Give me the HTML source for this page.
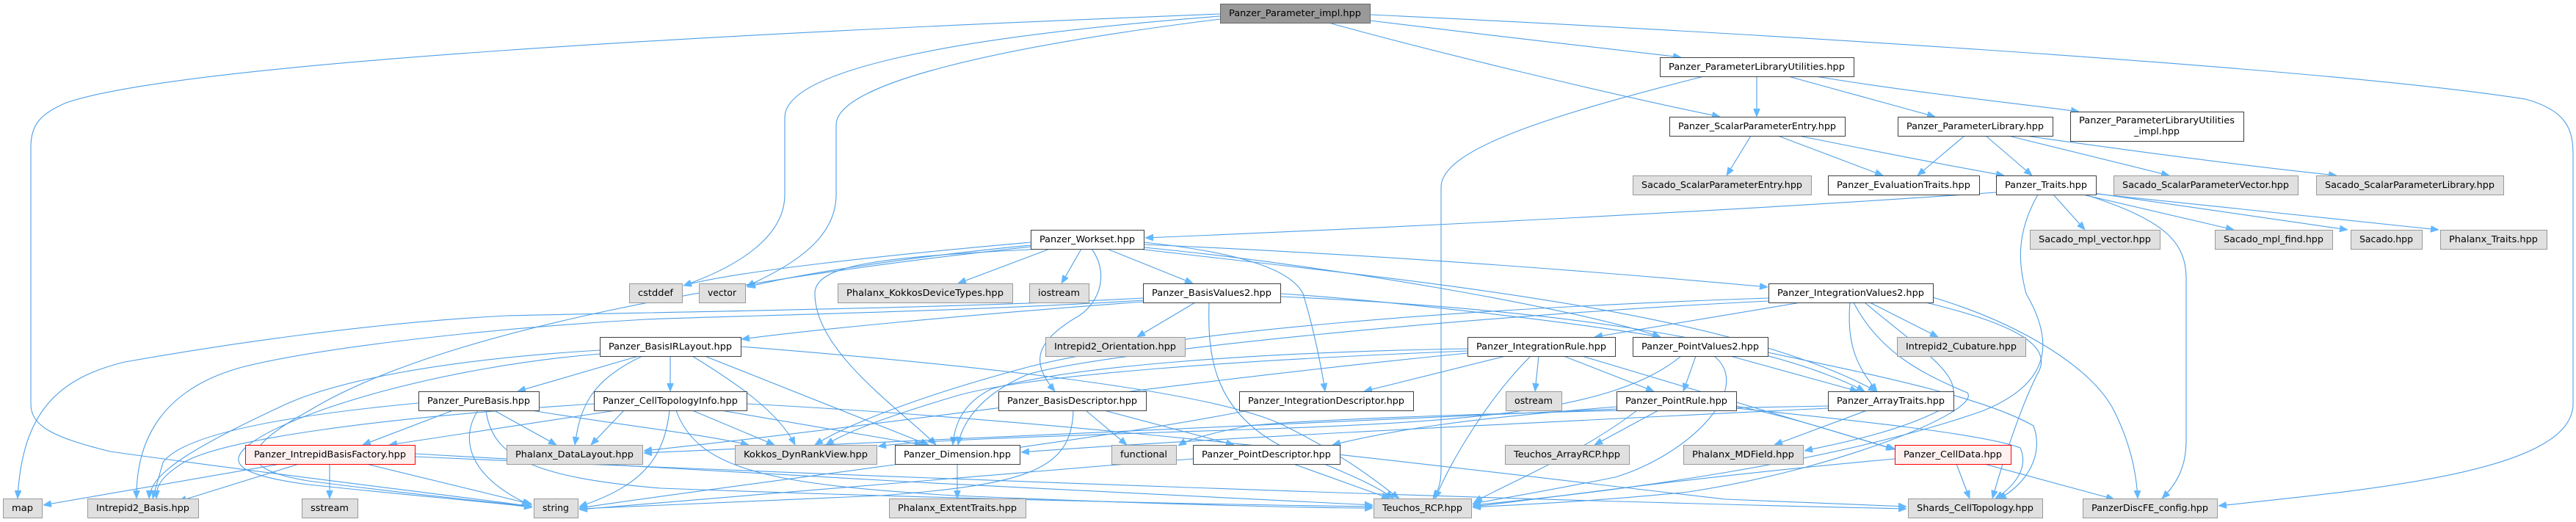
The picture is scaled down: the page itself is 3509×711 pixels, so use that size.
<!DOCTYPE html>
<html>
<head>
<meta charset="utf-8">
<style>
html,body{margin:0;padding:0;background:#ffffff;}
svg{display:block;}
.e{fill:none;stroke:#4f9fe6;stroke-width:1.1;marker-end:url(#a);}
.doc{fill:#ffffff;stroke:#404040;stroke-width:1;}
.ext{fill:#e0e0e0;stroke:#999999;stroke-width:1;}
.root{fill:#999999;stroke:#666666;stroke-width:1;}
.red{fill:#fff0f0;stroke:#ff0000;stroke-width:1;}
text{font-family:"DejaVu Sans","Liberation Sans",sans-serif;font-size:12px;fill:#000;text-anchor:middle;}
</style>
</head>
<body>
<svg width="3509" height="711" viewBox="0 0 3509 711" xmlns="http://www.w3.org/2000/svg">
<defs>
<marker id="a" viewBox="0 0 11 9" refX="11" refY="4.5" markerWidth="11" markerHeight="9" markerUnits="userSpaceOnUse" orient="auto">
<path d="M0,0L11,4.5L0,9z" fill="#63b8ff" stroke="#63b8ff" stroke-width="0.8"/>
</marker>
</defs>
<rect x="0" y="0" width="3509" height="711" fill="#ffffff"/>

<!-- edges -->
<g>
<path class="e" d="M1866,28 C2000,45 2180,65 2290,78"/>
<path class="e" d="M1810,31 C1950,70 2200,130 2343,159"/>
<path class="e" d="M1866,20 C2300,40 3150,90 3440,135 C3495,150 3505,175 3505,210 L3505,550 C3505,640 3250,665 3022,689"/>
<path class="e" d="M1662,19 C1000,45 250,85 90,140 C55,155 42,170 42,200 L42,550 C42,580 70,595 150,615 C400,650 620,675 725,690"/>
<path class="e" d="M1662,22 C1300,50 1069,95 1069,160 L1069,265 C1069,325 1000,365 931,389"/>
<path class="e" d="M1662,26 C1350,65 1139,115 1139,170 L1139,265 C1139,330 1070,365 1017,390"/>
<path class="e" d="M2393,104 L2393,159"/>
<path class="e" d="M2436,104 L2636,159"/>
<path class="e" d="M2473,104 C2600,125 2740,140 2832,152"/>
<path class="e" d="M2321,104 C2100,160 1963,205 1963,255 L1963,640 C1963,660 1958,670 1952,679"/>
<path class="e" d="M2385,185 L2352,239"/>
<path class="e" d="M2422,185 L2565,239"/>
<path class="e" d="M2450,185 C2550,205 2650,225 2730,239"/>
<path class="e" d="M2676,185 L2612,239"/>
<path class="e" d="M2705,185 L2768,239"/>
<path class="e" d="M2736,185 L2955,239"/>
<path class="e" d="M2759,185 C2900,205 3050,225 3183,239"/>
<path class="e" d="M2719,262 C2400,285 1900,310 1560,324"/>
<path class="e" d="M2797,265 L2840,313"/>
<path class="e" d="M2837,265 L3043,313"/>
<path class="e" d="M2852,263 L3198,313"/>
<path class="e" d="M2855,264 C3050,285 3200,300 3322,313"/>
<path class="e" d="M2840,265 C2950,300 2978,330 2978,380 L2978,600 C2978,640 2962,662 2945,679"/>
<path class="e" d="M2776,265 C2745,320 2750,360 2760,400 C2795,460 2800,520 2700,560 C2500,630 2200,670 2006,688"/>
<path class="e" d="M1404,330 C1200,348 1000,370 931,389"/>
<path class="e" d="M1404,334 C1220,352 1080,375 1018,391"/>
<path class="e" d="M1430,339 L1305,386"/>
<path class="e" d="M1473,339 L1446,386"/>
<path class="e" d="M1508,339 L1625,386"/>
<path class="e" d="M1558,333 C1900,348 2200,372 2408,391"/>
<path class="e" d="M1558,337 C1800,360 2150,420 2262,459"/>
<path class="e" d="M1550,339 C1900,380 2350,420 2556,533"/>
<path class="e" d="M1420,339 C1200,350 1110,360 1110,400 C1110,480 1230,560 1275,606"/>
<path class="e" d="M1487,339 C1510,370 1500,410 1470,430 C1400,470 1410,500 1437,533"/>
<path class="e" d="M1558,330 C1700,345 1760,370 1775,400 C1790,450 1800,500 1805,533"/>
<path class="e" d="M1404,336 C1000,380 600,450 420,560 C320,615 330,640 420,655 C550,672 650,682 725,690"/>
<path class="e" d="M1557,406 C1300,420 900,425 690,430 C500,440 300,470 170,493 C80,515 30,560 24,679"/>
<path class="e" d="M1557,409 C1300,425 1000,430 880,435 C700,445 450,470 330,500 C220,530 185,600 186,679"/>
<path class="e" d="M1557,411 C1300,430 1100,450 1010,462"/>
<path class="e" d="M1628,412 L1549,459"/>
<path class="e" d="M1647,412 C1645,480 1650,560 1750,610 C1850,650 1880,665 1898,679"/>
<path class="e" d="M1744,400 C1900,410 2150,440 2262,459"/>
<path class="e" d="M1744,404 C2100,420 2400,460 2540,533"/>
<path class="e" d="M870,485 L705,533"/>
<path class="e" d="M913,485 L913,533"/>
<path class="e" d="M875,485 C800,520 790,560 783,606"/>
<path class="e" d="M943,485 C1000,520 1060,560 1083,606"/>
<path class="e" d="M960,485 L1265,606"/>
<path class="e" d="M817,477 C600,490 450,520 380,555 C240,620 205,650 203,679"/>
<path class="e" d="M817,482 C600,500 400,560 340,605 C305,632 330,648 420,660 C560,675 660,683 725,691"/>
<path class="e" d="M1009,472 C1300,495 1650,530 1750,580 C1840,625 1880,660 1906,679"/>
<path class="e" d="M850,559 L805,606"/>
<path class="e" d="M839,559 L530,606"/>
<path class="e" d="M809,550 C500,570 300,600 250,630 C218,650 213,662 213,679"/>
<path class="e" d="M943,559 L1055,606"/>
<path class="e" d="M982,559 L1257,606"/>
<path class="e" d="M912,559 C905,620 880,660 789,690"/>
<path class="e" d="M921,559 C950,640 1050,660 1300,675 C1600,688 1800,692 1870,692"/>
<path class="e" d="M1017,550 C1500,575 2000,640 2350,680 L2597,690"/>
<path class="e" d="M617,559 L494,606"/>
<path class="e" d="M673,559 L758,606"/>
<path class="e" d="M651,559 C625,600 640,650 722,688"/>
<path class="e" d="M570,549 C400,565 250,590 222,630 L208,679"/>
<path class="e" d="M662,559 C670,620 720,650 900,665 C1300,680 1700,688 1870,690"/>
<path class="e" d="M724,559 C850,580 950,590 1020,606"/>
<path class="e" d="M382,632 L59,688"/>
<path class="e" d="M407,632 L243,683"/>
<path class="e" d="M449,632 L449,679"/>
<path class="e" d="M499,632 L725,687"/>
<path class="e" d="M565,618 C900,640 1500,670 1870,688"/>
<path class="e" d="M565,622 C1200,650 2000,680 2597,693"/>
<path class="e" d="M1479,559 L1535,606"/>
<path class="e" d="M1504,559 L1681,606"/>
<path class="e" d="M1462,559 C1460,640 1400,660 1200,675 C1000,685 850,690 789,693"/>
<path class="e" d="M1700,559 C1500,600 1000,660 789,692"/>
<path class="e" d="M1762,632 L1893,679"/>
<path class="e" d="M1625,625 C1300,650 950,680 789,694"/>
<path class="e" d="M1304,632 L1304,679"/>
<path class="e" d="M2051,485 L1858,533"/>
<path class="e" d="M2096,485 L2091,533"/>
<path class="e" d="M2130,485 L2253,533"/>
<path class="e" d="M2085,485 C2030,540 1980,620 1955,679"/>
<path class="e" d="M2155,485 L2580,612"/>
<path class="e" d="M1999,478 C1700,490 1400,510 1300,540 C1200,570 1150,590 1125,606"/>
<path class="e" d="M1999,475 C1700,480 1450,500 1350,530 C1310,550 1300,580 1298,606"/>
<path class="e" d="M1999,481 C1600,520 1200,580 877,614"/>
<path class="e" d="M2310,485 L2293,533"/>
<path class="e" d="M2357,485 L2531,533"/>
<path class="e" d="M2335,485 C2390,530 2300,620 2200,650 C2100,670 2040,680 2006,686"/>
<path class="e" d="M2290,485 C2200,560 2000,575 1700,585 C1400,595 1250,600 1196,608"/>
<path class="e" d="M2408,480 C2550,510 2700,540 2770,580 C2785,620 2760,660 2722,680"/>
<path class="e" d="M2365,556 C2500,570 2700,590 2752,610 C2765,640 2740,665 2718,679"/>
<path class="e" d="M2259,559 L2172,606"/>
<path class="e" d="M2202,554 C2000,570 1900,585 1815,606"/>
<path class="e" d="M2202,557 C1700,580 1200,600 877,617"/>
<path class="e" d="M2365,553 C2450,570 2520,595 2582,612"/>
<path class="e" d="M2230,559 C2150,620 2050,660 2008,684"/>
<path class="e" d="M2543,559 L2417,606"/>
<path class="e" d="M2490,553 C2100,560 1800,570 1700,580 C1650,590 1620,598 1605,607"/>
<path class="e" d="M2490,556 C2000,580 1600,600 1391,616"/>
<path class="e" d="M2453,412 L2172,459"/>
<path class="e" d="M2520,412 C2515,470 2530,500 2557,533"/>
<path class="e" d="M2547,412 L2640,459"/>
<path class="e" d="M2525,412 C2560,480 2620,510 2680,535 C2700,560 2500,640 2300,670 C2150,685 2050,688 2006,691"/>
<path class="e" d="M2623,412 C2740,440 2800,470 2775,510 C2750,560 2725,640 2714,679"/>
<path class="e" d="M2633,405 C2750,440 2850,500 2880,560 C2900,600 2910,640 2912,679"/>
<path class="e" d="M2540,412 C2620,480 2700,525 2640,560 C2580,590 2500,605 2458,614"/>
<path class="e" d="M2409,406 C2000,420 1600,450 1400,500 C1250,540 1150,580 1110,606"/>
<path class="e" d="M2409,410 C2000,430 1500,480 1400,510 C1330,540 1310,580 1305,606"/>
<path class="e" d="M2581,625 C2300,650 2100,680 2006,690"/>
<path class="e" d="M2665,632 L2683,679"/>
<path class="e" d="M2703,632 L2880,680"/>
</g>

<!-- nodes -->
<g>
<rect class="root" x="1662.5" y="5.5" width="204" height="26"/><text x="1764" y="22" textLength="180" lengthAdjust="spacingAndGlyphs">Panzer_Parameter_impl.hpp</text>

<rect class="doc" x="2261.5" y="78.5" width="264" height="26"/><text x="2393" y="95" textLength="240" lengthAdjust="spacingAndGlyphs">Panzer_ParameterLibraryUtilities.hpp</text>

<rect class="doc" x="2274.5" y="159.5" width="239" height="26"/><text x="2393.5" y="176" textLength="215" lengthAdjust="spacingAndGlyphs">Panzer_ScalarParameterEntry.hpp</text>
<rect class="doc" x="2585.5" y="159.5" width="211" height="26"/><text x="2690.5" y="176" textLength="187" lengthAdjust="spacingAndGlyphs">Panzer_ParameterLibrary.hpp</text>
<rect class="doc" x="2820.5" y="152.5" width="236" height="40"/><text x="2938" y="168" textLength="212" lengthAdjust="spacingAndGlyphs">Panzer_ParameterLibraryUtilities</text><text x="2938" y="183" textLength="62" lengthAdjust="spacingAndGlyphs">_impl.hpp</text>

<rect class="ext" x="2224.5" y="239.5" width="243" height="26"/><text x="2345.5" y="256" textLength="219" lengthAdjust="spacingAndGlyphs">Sacado_ScalarParameterEntry.hpp</text>
<rect class="doc" x="2490.5" y="239.5" width="206" height="26"/><text x="2593" y="256" textLength="182" lengthAdjust="spacingAndGlyphs">Panzer_EvaluationTraits.hpp</text>
<rect class="doc" x="2719.5" y="239.5" width="136" height="26"/><text x="2787" y="256" textLength="112" lengthAdjust="spacingAndGlyphs">Panzer_Traits.hpp</text>
<rect class="ext" x="2879.5" y="239.5" width="251" height="26"/><text x="3004.5" y="256" textLength="227" lengthAdjust="spacingAndGlyphs">Sacado_ScalarParameterVector.hpp</text>
<rect class="ext" x="3155.5" y="239.5" width="255" height="26"/><text x="3282.5" y="256" textLength="231" lengthAdjust="spacingAndGlyphs">Sacado_ScalarParameterLibrary.hpp</text>

<rect class="doc" x="1404.5" y="313.5" width="154" height="26"/><text x="1481" y="330" textLength="130" lengthAdjust="spacingAndGlyphs">Panzer_Workset.hpp</text>
<rect class="ext" x="2765.5" y="313.5" width="177" height="26"/><text x="2853.5" y="330" textLength="153" lengthAdjust="spacingAndGlyphs">Sacado_mpl_vector.hpp</text>
<rect class="ext" x="3017.5" y="313.5" width="160" height="26"/><text x="3097" y="330" textLength="136" lengthAdjust="spacingAndGlyphs">Sacado_mpl_find.hpp</text>
<rect class="ext" x="3202.5" y="313.5" width="97" height="26"/><text x="3250.5" y="330" textLength="73" lengthAdjust="spacingAndGlyphs">Sacado.hpp</text>
<rect class="ext" x="3324.5" y="313.5" width="145" height="26"/><text x="3396.5" y="330" textLength="121" lengthAdjust="spacingAndGlyphs">Phalanx_Traits.hpp</text>

<rect class="ext" x="857.5" y="386.5" width="72" height="26"/><text x="893" y="403" textLength="48" lengthAdjust="spacingAndGlyphs">cstddef</text>
<rect class="ext" x="952.5" y="386.5" width="63" height="26"/><text x="983.5" y="403" textLength="39" lengthAdjust="spacingAndGlyphs">vector</text>
<rect class="ext" x="1141.5" y="386.5" width="238" height="26"/><text x="1260" y="403" textLength="214" lengthAdjust="spacingAndGlyphs">Phalanx_KokkosDeviceTypes.hpp</text>
<rect class="ext" x="1402.5" y="386.5" width="81" height="26"/><text x="1442.5" y="403" textLength="57" lengthAdjust="spacingAndGlyphs">iostream</text>
<rect class="doc" x="1557.5" y="386.5" width="187" height="26"/><text x="1650.5" y="403" textLength="163" lengthAdjust="spacingAndGlyphs">Panzer_BasisValues2.hpp</text>
<rect class="doc" x="2409.5" y="386.5" width="224" height="26"/><text x="2521" y="403" textLength="200" lengthAdjust="spacingAndGlyphs">Panzer_IntegrationValues2.hpp</text>

<rect class="doc" x="817.5" y="459.5" width="192" height="26"/><text x="913" y="476" textLength="168" lengthAdjust="spacingAndGlyphs">Panzer_BasisIRLayout.hpp</text>
<rect class="ext" x="1424.5" y="459.5" width="190" height="26"/><text x="1519" y="476" textLength="166" lengthAdjust="spacingAndGlyphs">Intrepid2_Orientation.hpp</text>
<rect class="doc" x="1999.5" y="459.5" width="201" height="26"/><text x="2099.5" y="476" textLength="177" lengthAdjust="spacingAndGlyphs">Panzer_IntegrationRule.hpp</text>
<rect class="doc" x="2224.5" y="459.5" width="184" height="26"/><text x="2316" y="476" textLength="160" lengthAdjust="spacingAndGlyphs">Panzer_PointValues2.hpp</text>
<rect class="ext" x="2584.5" y="459.5" width="175" height="26"/><text x="2671.5" y="476" textLength="151" lengthAdjust="spacingAndGlyphs">Intrepid2_Cubature.hpp</text>

<rect class="doc" x="570.5" y="533.5" width="164" height="26"/><text x="652" y="550" textLength="140" lengthAdjust="spacingAndGlyphs">Panzer_PureBasis.hpp</text>
<rect class="doc" x="809.5" y="533.5" width="208" height="26"/><text x="913" y="550" textLength="184" lengthAdjust="spacingAndGlyphs">Panzer_CellTopologyInfo.hpp</text>
<rect class="doc" x="1360.5" y="533.5" width="201" height="26"/><text x="1460.5" y="550" textLength="177" lengthAdjust="spacingAndGlyphs">Panzer_BasisDescriptor.hpp</text>
<rect class="doc" x="1688.5" y="533.5" width="237" height="26"/><text x="1806.5" y="550" textLength="213" lengthAdjust="spacingAndGlyphs">Panzer_IntegrationDescriptor.hpp</text>
<rect class="ext" x="2051.5" y="533.5" width="76" height="26"/><text x="2089" y="550" textLength="52" lengthAdjust="spacingAndGlyphs">ostream</text>
<rect class="doc" x="2202.5" y="533.5" width="163" height="26"/><text x="2283.5" y="550" textLength="139" lengthAdjust="spacingAndGlyphs">Panzer_PointRule.hpp</text>
<rect class="doc" x="2490.5" y="533.5" width="171" height="26"/><text x="2575.5" y="550" textLength="147" lengthAdjust="spacingAndGlyphs">Panzer_ArrayTraits.hpp</text>

<rect class="red" x="334.5" y="606.5" width="231" height="26"/><text x="449.5" y="623" textLength="207" lengthAdjust="spacingAndGlyphs">Panzer_IntrepidBasisFactory.hpp</text>
<rect class="ext" x="690.5" y="606.5" width="185" height="26"/><text x="782.5" y="623" textLength="161" lengthAdjust="spacingAndGlyphs">Phalanx_DataLayout.hpp</text>
<rect class="ext" x="1001.5" y="606.5" width="193" height="26"/><text x="1097.5" y="623" textLength="169" lengthAdjust="spacingAndGlyphs">Kokkos_DynRankView.hpp</text>
<rect class="doc" x="1219.5" y="606.5" width="170" height="26"/><text x="1304" y="623" textLength="146" lengthAdjust="spacingAndGlyphs">Panzer_Dimension.hpp</text>
<rect class="ext" x="1514.5" y="606.5" width="88" height="26"/><text x="1558" y="623" textLength="64" lengthAdjust="spacingAndGlyphs">functional</text>
<rect class="doc" x="1625.5" y="606.5" width="200" height="26"/><text x="1725" y="623" textLength="176" lengthAdjust="spacingAndGlyphs">Panzer_PointDescriptor.hpp</text>
<rect class="ext" x="2050.5" y="606.5" width="169" height="26"/><text x="2134.5" y="623" textLength="145" lengthAdjust="spacingAndGlyphs">Teuchos_ArrayRCP.hpp</text>
<rect class="ext" x="2293.5" y="606.5" width="163" height="26"/><text x="2374.5" y="623" textLength="139" lengthAdjust="spacingAndGlyphs">Phalanx_MDField.hpp</text>
<rect class="red" x="2581.5" y="606.5" width="158" height="26"/><text x="2660" y="623" textLength="134" lengthAdjust="spacingAndGlyphs">Panzer_CellData.hpp</text>

<rect class="ext" x="4.5" y="679.5" width="53" height="26"/><text x="30.5" y="696" textLength="29" lengthAdjust="spacingAndGlyphs">map</text>
<rect class="ext" x="119.5" y="679.5" width="151" height="26"/><text x="194.5" y="696" textLength="127" lengthAdjust="spacingAndGlyphs">Intrepid2_Basis.hpp</text>
<rect class="ext" x="411.5" y="679.5" width="76" height="26"/><text x="449" y="696" textLength="52" lengthAdjust="spacingAndGlyphs">sstream</text>
<rect class="ext" x="727.5" y="679.5" width="60" height="26"/><text x="757" y="696" textLength="36" lengthAdjust="spacingAndGlyphs">string</text>
<rect class="ext" x="1211.5" y="679.5" width="186" height="26"/><text x="1304" y="696" textLength="162" lengthAdjust="spacingAndGlyphs">Phalanx_ExtentTraits.hpp</text>
<rect class="ext" x="1871.5" y="679.5" width="133" height="26"/><text x="1937.5" y="696" textLength="109" lengthAdjust="spacingAndGlyphs">Teuchos_RCP.hpp</text>
<rect class="ext" x="2599.5" y="679.5" width="183" height="26"/><text x="2690.5" y="696" textLength="159" lengthAdjust="spacingAndGlyphs">Shards_CellTopology.hpp</text>
<rect class="ext" x="2837.5" y="679.5" width="183" height="26"/><text x="2928.5" y="696" textLength="159" lengthAdjust="spacingAndGlyphs">PanzerDiscFE_config.hpp</text>
</g>
</svg>
</body>
</html>
